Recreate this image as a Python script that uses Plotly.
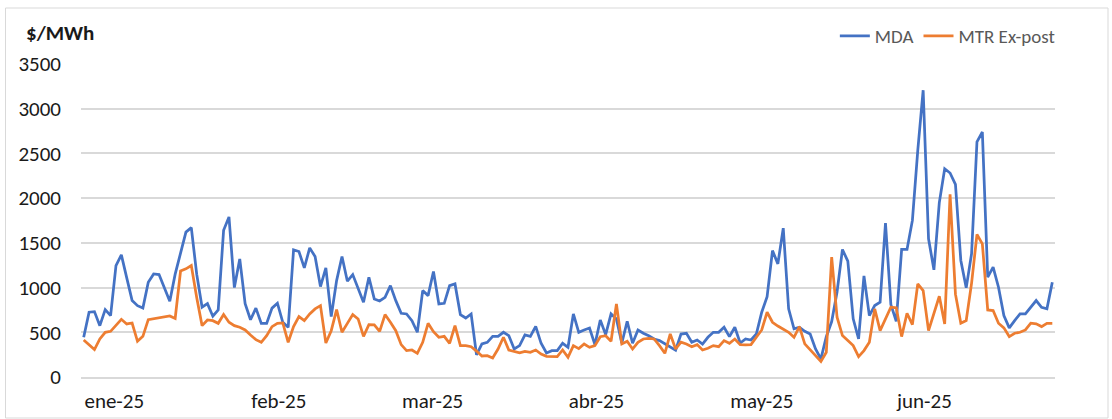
import pandas as pd
import plotly.graph_objects as go

# Daily prices, 1 Jan - 30 Jun 2025 ($/MWh)
fechas = pd.date_range("2025-01-01", "2025-06-30", freq="D")

mda = [
    444, 724, 731, 574, 753, 686, 1246, 1365, 1108, 854,
    798, 772, 1059, 1152, 1145, 1003, 847, 1150, 1400, 1620,
    1670, 1150, 780, 820, 680, 750, 1640, 1790, 1000, 1320,
    820, 640, 770, 600, 600, 770, 825, 612, 556, 1421,
    1403, 1220, 1444, 1347, 1011, 1220, 675, 1078, 1347, 1071,
    1145, 996, 836, 1115, 873, 850, 891, 1022, 854, 712,
    705, 630, 500, 966, 910, 1179, 817, 824, 1022, 1041,
    698, 660, 705, 248, 370, 388, 455, 455, 500, 462,
    313, 351, 470, 455, 567, 377, 269, 295, 295, 377,
    332, 705, 500, 526, 548, 362, 638, 474, 705, 649,
    377, 623, 377, 526, 489, 462, 425, 407, 369, 332,
    300, 480, 489, 388, 414, 369, 444, 500, 500, 556,
    451, 556, 380, 425, 414, 481, 724, 899, 1414, 1265,
    1665, 762, 538, 556, 511, 481, 314, 202, 450, 620,
    950, 1426, 1295, 650, 425, 1131, 687, 799, 836, 1721,
    810, 623, 1426, 1426, 1751, 2535, 3207, 1546, 1198, 1950,
    2329, 2281, 2154, 1303, 997, 1380, 2630, 2740, 1116, 1228,
    1004, 687, 549, 631, 706, 706, 780, 855, 780, 762,
    1060,
]

mtr_ex_post = [
    414, 362, 306, 425, 500, 511, 574, 645, 593, 604,
    399, 455, 641, 653, 660, 671, 683, 655, 1185, 1209,
    1246, 890, 574, 638, 630, 600, 698, 612, 574, 556,
    526, 470, 418, 388, 462, 563, 600, 604, 388, 563,
    675, 630, 705, 761, 798, 380, 518, 753, 500, 600,
    698, 649, 455, 585, 582, 510, 698, 612, 518, 362,
    295, 302, 265, 388, 600, 507, 444, 455, 377, 574,
    351, 351, 339, 290, 235, 239, 213, 313, 444, 302,
    287, 269, 287, 276, 302, 257, 231, 231, 228, 302,
    220, 351, 317, 369, 332, 351, 451, 462, 399, 817,
    369, 399, 313, 388, 425, 433, 425, 351, 265, 481,
    313, 390, 369, 339, 362, 302, 321, 351, 339, 407,
    377, 425, 362, 358, 362, 444, 526, 724, 612, 570,
    538, 500, 444, 564, 370, 302, 239, 175, 276, 1340,
    668, 463, 407, 351, 228, 295, 388, 762, 519, 650,
    780, 773, 452, 713, 586, 1041, 967, 519, 706, 903,
    594, 2042, 926, 601, 631, 1050, 1594, 1489, 750, 743,
    601, 549, 452, 489, 500, 526, 601, 594, 564, 601,
    601,
]

meses = pd.date_range("2025-01-01", "2025-06-01", freq="MS")
etiquetas_mes = ["ene-25", "feb-25", "mar-25", "abr-25", "may-25", "jun-25"]
y_ticks = list(range(0, 3501, 500))

# Page and plot-area geometry (px)
W, H = 1112, 419
L, R, T, B = 81, 57, 64, 42
plot_w = W - L - R
plot_h = H - T - B


def px_to_paper_x(px):
    return (px - L) / plot_w


def px_to_paper_y(py):
    return (H - B - py) / plot_h


FONT = "Calibri, Carlito, Lato, sans-serif"
GRID = "#D9D9D9"

fig = go.Figure()
fig.add_trace(go.Scatter(x=fechas, y=mda, name="MDA", mode="lines",
                         line=dict(color="#4472C4", width=2.75)))
fig.add_trace(go.Scatter(x=fechas, y=mtr_ex_post, name="MTR Ex-post", mode="lines",
                         line=dict(color="#ED7D31", width=2.75)))

fig.update_layout(
    width=W, height=H,
    margin=dict(l=L, r=R, t=T, b=B, pad=0, autoexpand=False),
    plot_bgcolor="white", paper_bgcolor="white",
    font=dict(family=FONT, size=21, color="#1a1a1a"),
    legend=dict(orientation="h", x=1.006, xanchor="right",
                y=px_to_paper_y(36), yanchor="middle",
                font=dict(family=FONT, size=19, color="#595959"),
                bgcolor="rgba(0,0,0,0)"),
    xaxis=dict(
        type="date", automargin=False,
        range=["2024-12-31 12:00", "2025-06-30 12:00"],
        tickvals=meses, ticktext=etiquetas_mes,
        ticks="", showgrid=False, zeroline=False,
        showline=True, linecolor=GRID, linewidth=1.5,
        ticklabelposition="outside right",
        ticklabelstandoff=4,
    ),
    yaxis=dict(
        automargin=False,
        range=[0, 3500], tickvals=y_ticks,
        ticks="", showgrid=True, gridcolor=GRID, gridwidth=1.5,
        zeroline=False, showline=False,
        ticklabelstandoff=19,
    ),
    annotations=[dict(
        text="<b>$/MWh</b>", xref="paper", yref="paper",
        x=px_to_paper_x(24), y=px_to_paper_y(33),
        xanchor="left", yanchor="middle", showarrow=False,
        font=dict(family=FONT, size=21, color="#1a1a1a"),
    )],
    shapes=[dict(
        type="rect", xref="paper", yref="paper", layer="below",
        x0=px_to_paper_x(5.5), x1=px_to_paper_x(1108),
        y0=px_to_paper_y(418), y1=px_to_paper_y(8),
        line=dict(color=GRID, width=1), fillcolor="rgba(0,0,0,0)",
    )],
)

fig.write_html("out.html")
